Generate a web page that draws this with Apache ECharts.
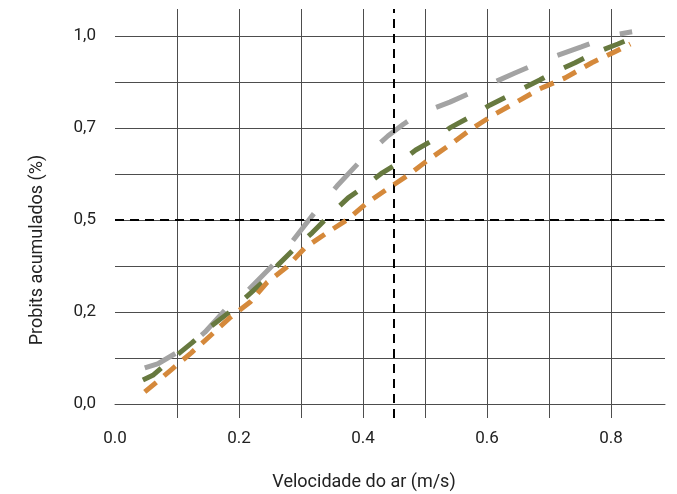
<!DOCTYPE html>
<html><head><meta charset="utf-8">
<script src="https://cdn.jsdelivr.net/npm/echarts@6/dist/echarts.min.js"></script>
<style>html,body{margin:0;padding:0;background:#fff}#c{width:677px;height:494px}</style>
</head><body><div id="c"></div>
<script>
// ---- data ----
const grayX = [0.048, 0.07, 0.1, 0.125, 0.145, 0.18, 0.215, 0.255, 0.285, 0.323, 0.358, 0.4, 0.44, 0.465, 0.49, 0.54, 0.594, 0.645, 0.698, 0.752, 0.806, 0.834];
const grayY = [0.098, 0.11, 0.14, 0.166, 0.195, 0.26, 0.31, 0.378, 0.44, 0.522, 0.592, 0.668, 0.728, 0.76, 0.788, 0.82, 0.861, 0.899, 0.9375, 0.97, 1.003, 1.011];

const greenX = [0.045, 0.061, 0.094, 0.124, 0.153, 0.185, 0.215, 0.242, 0.263, 0.287, 0.318, 0.347, 0.376, 0.403, 0.431, 0.46, 0.485, 0.513, 0.54, 0.573, 0.605, 0.64, 0.685, 0.706, 0.742, 0.774, 0.811, 0.827];
const greenY = [0.065, 0.078, 0.125, 0.166, 0.209, 0.25, 0.296, 0.337, 0.378, 0.418, 0.465, 0.514, 0.56, 0.592, 0.628, 0.658, 0.69, 0.717, 0.75, 0.78, 0.8125, 0.842, 0.88, 0.9, 0.927, 0.954, 0.978, 0.989];

const orangeX = [0.048, 0.071, 0.092, 0.123, 0.155, 0.185, 0.218, 0.245, 0.277, 0.306, 0.339, 0.374, 0.406, 0.44, 0.473, 0.505, 0.54, 0.573, 0.608, 0.642, 0.685, 0.726, 0.769, 0.803, 0.831];
const orangeY = [0.033, 0.065, 0.095, 0.139, 0.1875, 0.234, 0.277, 0.33, 0.372, 0.424, 0.462, 0.5, 0.546, 0.585, 0.622, 0.663, 0.704, 0.745, 0.783, 0.815, 0.856, 0.886, 0.927, 0.954, 0.978];

const xGridTicks = [0.1, 0.2, 0.3, 0.4, 0.5, 0.6, 0.7, 0.8];
const xLabelTicks = [0, 0.2, 0.4, 0.6, 0.8];
const yGridTicks = [0, 0.125, 0.25, 0.375, 0.5, 0.625, 0.75, 0.875, 1.0];
const yLabelTicks = [0, 0.25, 0.5, 0.75, 1.0];
const refX = 0.445;
const refY = 0.5;
const xTitle = 'Velocidade do ar (m/s)';
const yTitle = 'Probits acumulados (%)';

// ---- chart ----
const zip = (xs, ys) => xs.map((x, i) => [x, ys[i]]);
const FONT = 'Roboto';
const GRID_COLOR = '#4d4d4d';

const chart = echarts.init(document.getElementById('c'), null, {renderer: 'canvas'});
chart.setOption({
  animation: false,
  backgroundColor: '#ffffff',
  grid: {left: 115, right: 12, top: 9, bottom: 76, containLabel: false},
  xAxis: {
    type: 'value', min: 0, max: 0.887,
    axisLine: {show: true, onZero: true, lineStyle: {color: GRID_COLOR, width: 1}},
    axisTick: {show: false, customValues: xGridTicks},
    splitLine: {show: true, lineStyle: {color: GRID_COLOR, width: 1}},
    axisLabel: {customValues: xLabelTicks, margin: 12, color: '#222', fontFamily: FONT, fontSize: 17,
      formatter: v => v.toFixed(1)}
  },
  yAxis: {
    type: 'value', min: -0.038, max: 1.073,
    axisLine: {show: false},
    axisTick: {show: false, customValues: yGridTicks},
    splitLine: {show: true, lineStyle: {color: GRID_COLOR, width: 1}},
    axisLabel: {customValues: yLabelTicks, margin: 19, color: '#222', fontFamily: FONT, fontSize: 17,
      formatter: v => (Math.floor(v * 10 + 1e-9) / 10).toFixed(1).replace('.', ',')}
  },
  graphic: [
    {type: 'text', x: 364, y: 482, style: {text: xTitle, font: '18px ' + FONT, fill: '#222', textAlign: 'center', textVerticalAlign: 'middle'}},
    {type: 'text', x: 37, y: 250, rotation: Math.PI / 2, style: {text: yTitle, font: '18px ' + FONT, fill: '#222', textAlign: 'center', textVerticalAlign: 'middle'}}
  ],
  series: [
    {type: 'line', name: 'gray', data: zip(grayX, grayY), showSymbol: false, symbol: 'none', z: 3,
      lineStyle: {color: '#a3a3a3', width: 5, type: [34, 32]},
      markLine: {silent: true, symbol: 'none', label: {show: false}, animation: false,
        lineStyle: {color: '#000', width: 2, type: [9, 6]},
        data: [{xAxis: refX}, {yAxis: refY}]}},
    {type: 'line', name: 'green', data: zip(greenX, greenY), showSymbol: false, symbol: 'none', z: 4,
      lineStyle: {color: '#67793f', width: 5, type: [22, 22]}},
    {type: 'line', name: 'orange', data: zip(orangeX, orangeY), showSymbol: false, symbol: 'none', z: 5,
      lineStyle: {color: '#d5893b', width: 5, type: [15, 10]}}
  ]
});
</script>
</body></html>
